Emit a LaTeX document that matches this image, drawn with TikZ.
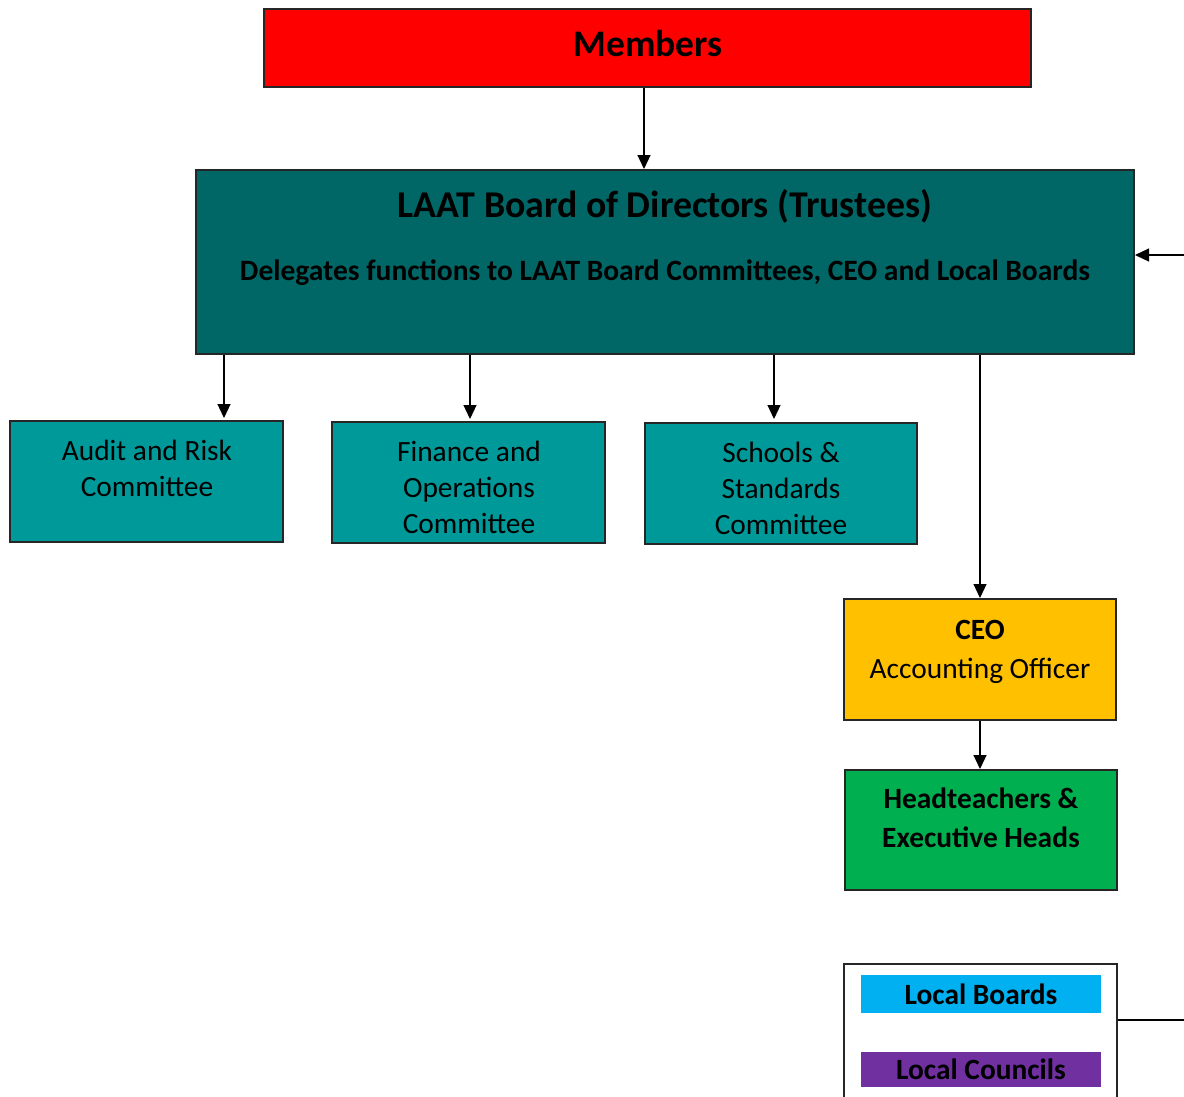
\documentclass[tikz,border=0pt]{standalone}
\usepackage{fontspec}
\setmainfont{Carlito}
\usetikzlibrary{arrows.meta}
\definecolor{cRed}{HTML}{FF0000}
\definecolor{cBoard}{HTML}{006666}
\definecolor{cComm}{HTML}{009999}
\definecolor{cCeo}{HTML}{FFC000}
\definecolor{cHead}{HTML}{00B050}
\definecolor{cLB}{HTML}{00B0F0}
\definecolor{cLC}{HTML}{7030A0}
\tikzset{
  box/.style={draw=black!85, line width=2pt, inner sep=0pt, rectangle},
  txt/.style={inner sep=0pt, align=center, text=black},
  arr/.style={draw=black, line width=1.2pt, -{Triangle[length=14pt,width=13pt]}},
  ln/.style={draw=black, line width=1.3pt},
  body/.style={font=\fontsize{29.4}{36}\selectfont},
  bbody/.style={font=\fontsize{29.4}{39}\selectfont\bfseries},
}
\begin{document}
\begin{tikzpicture}[x=1pt,y=-1pt]
\useasboundingbox (0,0) rectangle (1184,1096);
\clip (0,0) rectangle (1184,1096);
% boxes
\node[box, fill=cRed, minimum width=767, minimum height=78] (members) at (647.5,48) {};
\node[txt, font=\fontsize{37.5}{44}\selectfont\bfseries] (memberst) at (648,43) {Members};
\node[box, fill=cBoard, minimum width=938, minimum height=184] (board) at (665,262) {};
\node[txt, font=\fontsize{37.8}{44}\selectfont\bfseries] (boardt) at (665,206) {LAAT Board of Directors (Trustees)};
\node[txt, font=\fontsize{29.5}{34}\selectfont\bfseries] (boards) at (665,273) {Delegates functions to LAAT Board Committees, CEO and Local Boards};
\node[box, fill=cComm, minimum width=273, minimum height=121] (audit) at (146.5,481.5) {};
\node[txt, body] (auditt) at (147,468) {Audit and Risk\\Committee};
\node[box, fill=cComm, minimum width=273, minimum height=121] (fin) at (468.5,482.5) {};
\node[txt, body] (fint) at (469,487) {Finance and\\Operations\\Committee};
\node[box, fill=cComm, minimum width=272, minimum height=121] (sch) at (781,483.5) {};
\node[txt, body] (scht) at (781,488) {Schools \&\\Standards\\Committee};
\node[box, fill=cCeo, minimum width=272, minimum height=121] (ceo) at (980,659.5) {};
\node[txt, font=\fontsize{29.4}{39}\selectfont] (ceot) at (980,651.5) {\textbf{CEO}\\Accounting Officer};
\node[box, fill=cHead, minimum width=272, minimum height=120] (head) at (981,830) {};
\node[txt, bbody] (headt) at (981,818) {Headteachers \&\\Executive Heads};
\node[box, fill=white, minimum width=273, minimum height=146] (local) at (980.5,1037) {};
\node[txt, fill=cLB, minimum width=240, minimum height=38, font=\fontsize{29.4}{34}\selectfont\bfseries] (lb) at (981,994) {Local Boards};
\node[txt, fill=cLC, minimum width=240, minimum height=35, font=\fontsize{29.4}{34}\selectfont\bfseries] (lc) at (981,1069.5) {Local Councils};
\coordinate (rin) at (1184,255);
\coordinate (rout) at (1184,1020);
% connectors
\draw[arr] ([xshift=-3.5pt]members.south) -- ([xshift=-3.5pt]members.south |- board.north);
\draw[arr] ([xshift=77.5pt]audit.north |- board.south) -- ([xshift=77.5pt,yshift=2pt]audit.north);
\draw[arr] ([xshift=1.5pt]fin.north |- board.south) -- ([xshift=1.5pt,yshift=2pt]fin.north);
\draw[arr] ([xshift=-7pt]sch.north |- board.south) -- ([xshift=-7pt,yshift=3pt]sch.north);
\draw[arr] (ceo.north |- board.south) -- (ceo.north);
\draw[arr] (ceo.south) -- (ceo.south |- head.north);
\draw[arr] (rin) -- (rin -| board.east);
\draw[ln] (rout -| local.east) -- (rout);
\end{tikzpicture}
\end{document}
